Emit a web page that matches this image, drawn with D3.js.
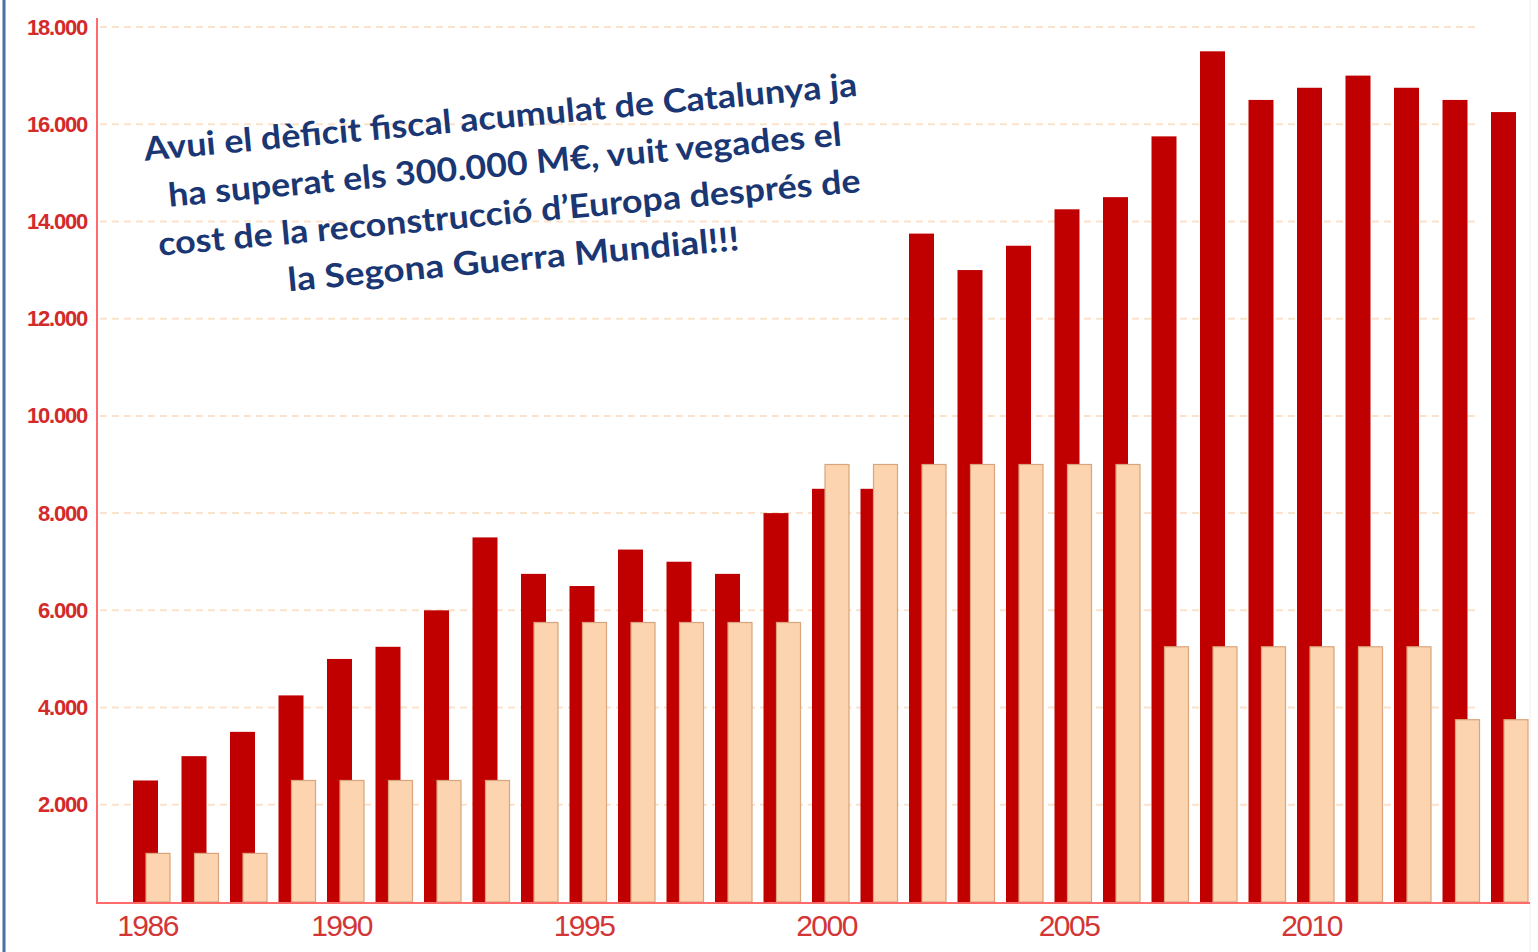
<!DOCTYPE html>
<html><head><meta charset="utf-8">
<script src="https://cdn.jsdelivr.net/npm/d3@7"></script>
<style>
html,body{margin:0;padding:0;background:#fff;}
svg{display:block;}
</style></head>
<body>
<svg id="chart" width="1538" height="952"></svg>
<script>
const years = d3.range(1986, 2015);
const deficit = [2500,3000,3500,4250,5000,5250,6000,7500,6750,6500,7250,7000,6750,8000,8500,8500,13750,13000,13500,14250,14500,15750,17500,16500,16750,17000,16750,16500,16250];
const reconstruction = [1000,1000,1000,2500,2500,2500,2500,2500,5750,5750,5750,5750,5750,5750,9000,9000,9000,9000,9000,9000,9000,5250,5250,5250,5250,5250,5250,3750,3750];
const yTicks = [2000,4000,6000,8000,10000,12000,14000,16000,18000];
const xTickYears = [1986,1990,1995,2000,2005,2010];
const noteLines = ["Avui el dèficit fiscal acumulat de Catalunya ja","ha superat els 300.000 M€, vuit vegades el","cost de la reconstrucció d’Europa després de","la Segona Guerra Mundial!!!"];

const svg = d3.select("#chart");
const x = d3.scaleBand().domain(years).range([133, 133 + 48.5 * years.length]).padding(0);
const y = d3.scaleLinear().domain([0, 18000]).range([902, 27]);
const fmt = d3.formatLocale({decimal:",", thousands:".", grouping:[3], currency:["","€"]}).format(",d");

// left blue border
svg.append("line").attr("x1",4).attr("x2",4).attr("y1",0).attr("y2",952)
  .attr("stroke","#4a6ea8").attr("stroke-width",3);
svg.append("line").attr("x1",1530).attr("x2",1530).attr("y1",0).attr("y2",952)
  .attr("stroke","#eeeeee").attr("stroke-width",1);

// gridlines
svg.append("g").selectAll("line").data(yTicks).join("line")
  .attr("x1",100).attr("x2",1480)
  .attr("y1",d=>y(d)).attr("y2",d=>y(d))
  .attr("stroke","#fbe2cc").attr("stroke-width",2).attr("stroke-dasharray","7,5");

// bars
svg.append("g").selectAll("rect").data(years).join("rect")
  .attr("x",(d)=>x(d)).attr("width",25)
  .attr("y",(d,i)=>y(deficit[i])).attr("height",(d,i)=>y(0)-y(deficit[i]))
  .attr("fill","#c00000");
svg.append("g").selectAll("rect").data(years).join("rect")
  .attr("x",(d)=>x(d)+13).attr("width",24)
  .attr("y",(d,i)=>y(reconstruction[i])).attr("height",(d,i)=>y(0)-y(reconstruction[i]))
  .attr("fill","#fcd4b0").attr("stroke","#d8a57c").attr("stroke-width",1.2);

// axes lines
svg.append("line").attr("x1",97).attr("x2",97).attr("y1",18).attr("y2",903)
  .attr("stroke","#ff6b6b").attr("stroke-width",2);
svg.append("line").attr("x1",96).attr("x2",1530).attr("y1",903).attr("y2",903)
  .attr("stroke","#ff6b6b").attr("stroke-width",2);

// y axis labels
const ya = svg.append("g").attr("transform","translate(92,0)")
  .call(d3.axisLeft(y).tickValues(yTicks).tickSize(0).tickPadding(5).tickFormat(fmt));
ya.select(".domain").remove();
ya.selectAll("text").attr("fill","#d32a2a").attr("font-family","'Liberation Sans', Arial, sans-serif")
  .attr("font-size",22).attr("font-weight","bold").attr("letter-spacing","-1.2px");

// x axis labels
const xa = svg.append("g").attr("transform","translate(0,903)")
  .call(d3.axisBottom(d3.scaleLinear().domain([1986,2014]).range([x(1986)+14, x(2014)+14]))
    .tickValues(xTickYears).tickSize(0).tickPadding(12).tickFormat(d3.format("d")));
xa.select(".domain").remove();
xa.selectAll("text").attr("fill","#d33636").attr("font-family","'Liberation Sans', Arial, sans-serif")
  .attr("font-size",30).attr("letter-spacing","-1.5px");

// annotation
const note = svg.append("g").attr("transform","translate(508,200) rotate(-5.2)");
const offs = [-72,-24,24,71];
const lens = [716,676,705,453];
note.selectAll("text").data(noteLines).join("text")
  .attr("x",0).attr("y",(d,i)=>offs[i])
  .attr("text-anchor","middle")
  .attr("font-family","Lato, 'Open Sans', sans-serif").attr("font-weight","bold")
  .attr("font-size",33).attr("fill","#1a3773")
  .attr("textLength",(d,i)=>lens[i]).attr("lengthAdjust","spacingAndGlyphs")
  .text(d=>d);
</script>
</body></html>
